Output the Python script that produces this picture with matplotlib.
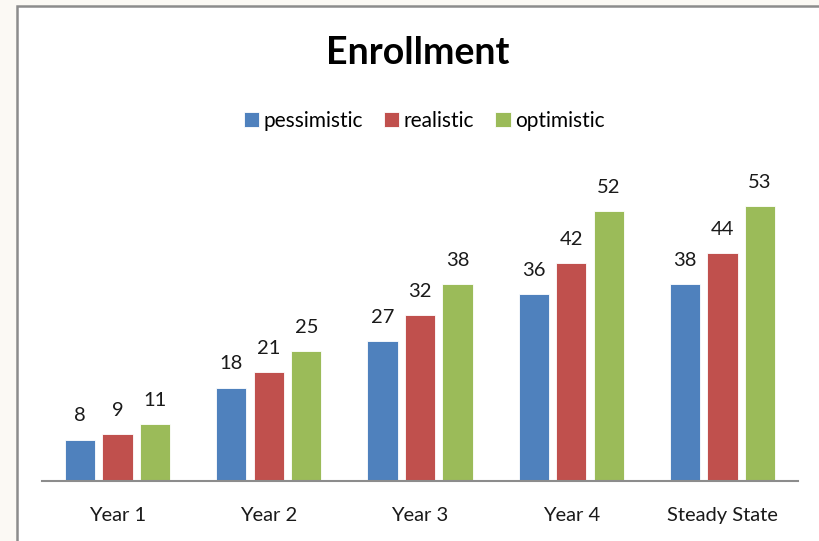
import matplotlib.pyplot as plt
import numpy as np
from matplotlib.patches import Rectangle

plt.rcParams["font.family"] = ["Lato", "DejaVu Sans"]

categories = ["Year 1", "Year 2", "Year 3", "Year 4", "Steady State"]
pessimistic = [8, 18, 27, 36, 38]
realistic = [9, 21, 32, 42, 44]
optimistic = [11, 25, 38, 52, 53]

series = [
    ("pessimistic", pessimistic, "#4F81BD"),
    ("realistic", realistic, "#C0504D"),
    ("optimistic", optimistic, "#9BBB59"),
]

fig = plt.figure(figsize=(8.19, 5.41), dpi=100)
fig.patch.set_facecolor("#fbf9f4")

# chart frame (white area with gray border at left/top), kept behind the axes
fig.patches.append(Rectangle((17 / 819, -0.1), 1.2, 1 - 6 / 541 + 0.1,
                             transform=fig.transFigure, facecolor="white",
                             edgecolor="#8c8c8c", linewidth=1.8, zorder=-5))

ax = fig.add_axes([42 / 819, 1 - 481 / 541, 756 / 819, (481 - 170) / 541])
ax.set_facecolor("none")

x = np.arange(len(categories))
step = 0.248
width = 0.2
for i, (name, vals, color) in enumerate(series):
    bars = ax.bar(x + (i - 1) * step, vals, width=width, color=color, label=name,
                  edgecolor="white", linewidth=0.6)
    for b, v in zip(bars, vals):
        ax.annotate(str(v), (b.get_x() + b.get_width() / 2, v),
                    xytext=(0, 11), textcoords="offset points",
                    ha="center", va="bottom", fontsize=14.5, color="#1a1a1a")

ax.set_xlim(-0.5, len(categories) - 0.5)
ax.set_ylim(0, 60)
ax.set_xticks(x)
ax.set_xticklabels(categories, fontsize=14.5, color="#1a1a1a")
ax.tick_params(axis="x", length=0, pad=19)
ax.set_yticks([])
for s in ["top", "right", "left"]:
    ax.spines[s].set_visible(False)
ax.spines["bottom"].set_color("#8c8c8c")
ax.spines["bottom"].set_linewidth(1.5)

fig.text(418 / 819, 1 - 53 / 541, "Enrollment", ha="center", va="center",
         fontsize=27, fontweight="bold", color="black")

fig.legend(loc="center", bbox_to_anchor=(424 / 819, 1 - 121 / 541), ncol=3,
           frameon=False, fontsize=15, handlelength=0.75, handleheight=0.75,
           handletextpad=0.2, columnspacing=1.0)

fig.savefig("out.png", dpi=100, facecolor=fig.get_facecolor())
